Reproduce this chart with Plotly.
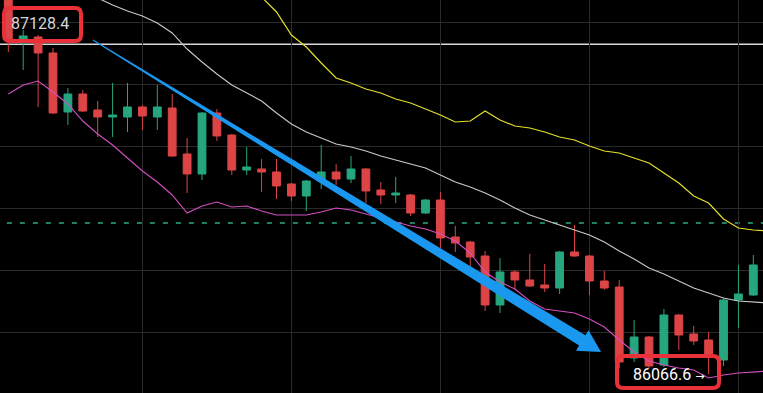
import plotly.graph_objects as go

# ---------------- data ----------------
candle_index = list(range(51))
open_p = [87319.1, 87132.4, 87151.7, 87100.2, 86910.4, 86968.3, 86916.8, 86894.3, 86894.3, 86926.5,
          86894.3, 86923.3, 86775.2, 86710.9, 86907.2, 86836.4, 86723.7, 86727.0, 86717.3, 86678.7,
          86640.1, 86688.3, 86717.3, 86694.8, 86727.0, 86659.4, 86643.3, 86643.3, 86585.4, 86627.2,
          86508.1, 86492.0, 86447.0, 86289.3, 86395.5, 86369.8, 86353.7, 86344.0, 86459.9, 86447.0,
          86366.5, 86347.2, 86118.8, 86186.3, 86096.2, 86257.1, 86196.0, 86176.7, 86112.3, 86305.4,
          86321.5]
high_p = [87351.3, 87174.3, 87158.2, 87116.3, 86987.6, 86981.2, 86945.8, 87003.7, 87003.7, 86932.9,
          86997.3, 86968.3, 86826.7, 86910.4, 86920.0, 86839.6, 86797.8, 86759.1, 86759.1, 86681.9,
          86691.6, 86804.2, 86743.0, 86768.8, 86730.2, 86685.1, 86701.2, 86646.5, 86630.4, 86652.9,
          86543.5, 86495.3, 86463.1, 86440.6, 86401.9, 86453.4, 86421.2, 86463.1, 86546.7, 86450.2,
          86398.7, 86369.8, 86241.0, 86189.6, 86276.4, 86260.3, 86221.7, 86202.4, 86311.8, 86418.0,
          86450.2]
low_p = [87103.5, 87045.5, 86926.5, 86903.9, 86868.5, 86910.4, 86829.9, 86829.9, 86846.0, 86852.5,
         86852.5, 86765.6, 86649.7, 86691.6, 86817.1, 86707.6, 86707.6, 86652.9, 86630.4, 86624.0,
         86591.8, 86662.6, 86675.5, 86681.9, 86617.5, 86614.3, 86617.5, 86575.7, 86582.1, 86472.7,
         86459.9, 86411.6, 86270.0, 86263.6, 86337.6, 86347.2, 86331.1, 86324.7, 86443.8, 86321.5,
         86337.6, 86086.6, 86105.9, 86086.6, 86089.8, 86144.5, 86160.6, 86066.6, 86093.0, 86215.3,
         86318.3]
close_p = [87142.1, 87155.0, 87100.2, 86907.2, 86968.3, 86913.6, 86894.3, 86900.7, 86926.5, 86897.5,
           86926.5, 86768.8, 86710.9, 86907.2, 86833.2, 86723.7, 86733.4, 86717.3, 86672.3, 86640.1,
           86688.3, 86717.3, 86694.8, 86727.0, 86656.2, 86643.3, 86649.7, 86585.4, 86627.2, 86504.9,
           86488.8, 86443.8, 86289.3, 86395.5, 86369.8, 86350.5, 86344.0, 86459.9, 86447.0, 86366.5,
           86344.0, 86105.9, 86186.3, 86093.0, 86257.1, 86192.8, 86173.5, 86128.4, 86305.4, 86324.7,
           86418.0]

ma_index = list(range(52))
ma_grey = [87399.5, 87377.0, 87354.5, 87331.9, 87312.6, 87293.3, 87277.2, 87254.7, 87235.4, 87219.3,
           87196.8, 87164.6, 87113.1, 87071.3, 87032.7, 86997.3, 86971.5, 86945.8, 86907.2, 86871.8,
           86846.0, 86826.7, 86807.4, 86797.8, 86784.9, 86768.8, 86755.9, 86743.0, 86730.2, 86707.6,
           86685.1, 86669.0, 86649.7, 86627.2, 86601.5, 86578.9, 86562.8, 86546.7, 86530.7, 86514.6,
           86492.0, 86463.1, 86437.3, 86408.4, 86389.1, 86366.5, 86344.0, 86327.9, 86311.8, 86302.2,
           86299.0, 86295.7]
ma_pink = [86968.3, 86997.3, 87010.1, 86974.7, 86936.1, 86881.4, 86839.6, 86804.2, 86762.4, 86720.5,
           86685.1, 86643.3, 86585.4, 86607.9, 86620.8, 86604.7, 86607.9, 86591.8, 86578.9, 86578.9,
           86578.9, 86588.6, 86601.5, 86595.0, 86582.1, 86569.3, 86556.4, 86543.5, 86533.9, 86517.8,
           86495.3, 86456.6, 86395.5, 86363.3, 86340.8, 86302.2, 86276.4, 86270.0, 86263.6, 86244.3,
           86218.5, 86176.7, 86138.1, 86109.1, 86096.2, 86086.6, 86080.1, 86054.4, 86064.0, 86070.5,
           86073.7, 86076.9]
ma_yellow = [None] * 14 + [
           87463.9, 87399.5, 87335.2, 87280.5, 87232.2, 87158.2,
           87119.6, 87068.1, 87019.8, 87003.7, 86984.4, 86971.5, 86952.2, 86939.3, 86920.0, 86900.7,
           86878.2, 86881.4, 86913.6, 86884.6, 86865.3, 86858.9, 86846.0, 86829.9, 86820.3, 86801.0,
           86784.9, 86778.4, 86762.4, 86746.3, 86714.1, 86681.9, 86640.1, 86617.5, 86566.1, 86537.1,
           86530.7, 86527.4]

high_label = "87128.4"
low_label = "86066.6"
high_line_price = 87128.4
low_price = 86066.6
dashed_price = 86553.2
low_candle = 47

arrow_start = (5.68, 87142.1)
arrow_tip = (39.78, 86138.1)

# ---------------- layout constants ----------------
W, H = 763, 393
X_RANGE = [-0.557, 50.65]
Y_RANGE = [86006.1, 87270.8]

GREEN = "#26a67f"
RED = "#dc4446"
BOX_RED = "#ea3038"
BLUE = "#1a98f0"


def to_px(xv, yv):
    px = (xv - X_RANGE[0]) / (X_RANGE[1] - X_RANGE[0]) * W
    py = (Y_RANGE[1] - yv) / (Y_RANGE[1] - Y_RANGE[0]) * H
    return px, py


def pp(px, py):
    return f"{px / W:.5f},{1 - py / H:.5f}"


def rounded_rect(x0, y0, x1, y1, r):
    return (f"M {pp(x0 + r, y0)} L {pp(x1 - r, y0)} Q {pp(x1, y0)} {pp(x1, y0 + r)} "
            f"L {pp(x1, y1 - r)} Q {pp(x1, y1)} {pp(x1 - r, y1)} "
            f"L {pp(x0 + r, y1)} Q {pp(x0, y1)} {pp(x0, y1 - r)} "
            f"L {pp(x0, y0 + r)} Q {pp(x0, y0)} {pp(x0 + r, y0)} Z")


def arrow_path(start, tip, head_len=22, head_half=12, w0=0.5, w1=6.0):
    sx, sy = to_px(*start)
    tx, ty = to_px(*tip)
    dx, dy = tx - sx, ty - sy
    L = (dx * dx + dy * dy) ** 0.5
    ux, uy = dx / L, dy / L
    nx, ny = -uy, ux
    bx, by = tx - ux * head_len, ty - uy * head_len
    pts = [(sx + nx * w0, sy + ny * w0), (bx + nx * w1, by + ny * w1),
           (bx + nx * head_half, by + ny * head_half), (tx, ty),
           (bx - nx * head_half, by - ny * head_half), (bx - nx * w1, by - ny * w1),
           (sx - nx * w0, sy - ny * w0)]
    return "M " + " L ".join(pp(*p) for p in pts) + " Z"


fig = go.Figure()

fig.add_trace(go.Candlestick(
    x=candle_index, open=open_p, high=high_p, low=low_p, close=close_p,
    increasing=dict(line=dict(color=GREEN, width=1), fillcolor=GREEN),
    decreasing=dict(line=dict(color=RED, width=1), fillcolor=RED),
    whiskerwidth=0, hoverinfo="skip", showlegend=False,
))

fig.add_trace(go.Scatter(x=ma_index, y=ma_grey, mode="lines",
                         line=dict(color="#c9c9c9", width=1.1), hoverinfo="skip", showlegend=False))
fig.add_trace(go.Scatter(x=ma_index, y=ma_yellow, mode="lines",
                         line=dict(color="#e3df2c", width=1.2), hoverinfo="skip", showlegend=False))
fig.add_trace(go.Scatter(x=ma_index, y=ma_pink, mode="lines",
                         line=dict(color="#d24fc0", width=1.1), hoverinfo="skip", showlegend=False))

shapes = [
    dict(type="line", xref="paper", x0=0, x1=1, yref="y", y0=high_line_price, y1=high_line_price,
         line=dict(color="#d9d9d9", width=1.5), layer="below"),
    dict(type="line", xref="paper", x0=0.009, x1=1, yref="y", y0=dashed_price, y1=dashed_price,
         line=dict(color="#2fa88a", width=1.5, dash="5px,8px"), layer="below"),
    dict(type="path", xref="paper", yref="paper", path=arrow_path(arrow_start, arrow_tip),
         fillcolor=BLUE, line=dict(width=0)),
    dict(type="path", xref="paper", yref="paper", path=rounded_rect(4, 8, 81, 41, 6),
         line=dict(color=BOX_RED, width=4)),
    dict(type="path", xref="paper", yref="paper", path=rounded_rect(617, 356, 719, 388, 6),
         line=dict(color=BOX_RED, width=4)),
]

annotations = [
    dict(xref="paper", yref="paper", x=40 / W, y=1 - 23 / H, text=high_label, showarrow=False,
         font=dict(family="Roboto, Arial", size=16, color="#d6d6d6"), xanchor="center", yanchor="middle"),
    dict(xref="x", yref="y", x=low_candle, y=low_price,
         text=low_label + " <span style='font-family:DejaVu Sans;font-size:11px'>→</span>",
         showarrow=False,
         font=dict(family="Roboto, Arial", size=16, color="#ffffff"), xanchor="right", yanchor="middle",
         xshift=-3),
]

fig.update_layout(
    width=W, height=H, margin=dict(l=0, r=0, t=0, b=0),
    paper_bgcolor="#000000", plot_bgcolor="#000000",
    boxgap=0.25,
    xaxis=dict(range=X_RANGE, showticklabels=False, tick0=9, dtick=10, showgrid=True,
               gridcolor="#2a2a2a", gridwidth=1, zeroline=False, rangeslider=dict(visible=False),
               fixedrange=True),
    yaxis=dict(range=Y_RANGE, showticklabels=False, tick0=0, dtick=200, showgrid=True,
               gridcolor="#2a2a2a", gridwidth=1, zeroline=False, fixedrange=True),
    shapes=shapes, annotations=annotations, showlegend=False, hovermode=False,
)

fig.write_html("out.html", config={"displayModeBar": False})
